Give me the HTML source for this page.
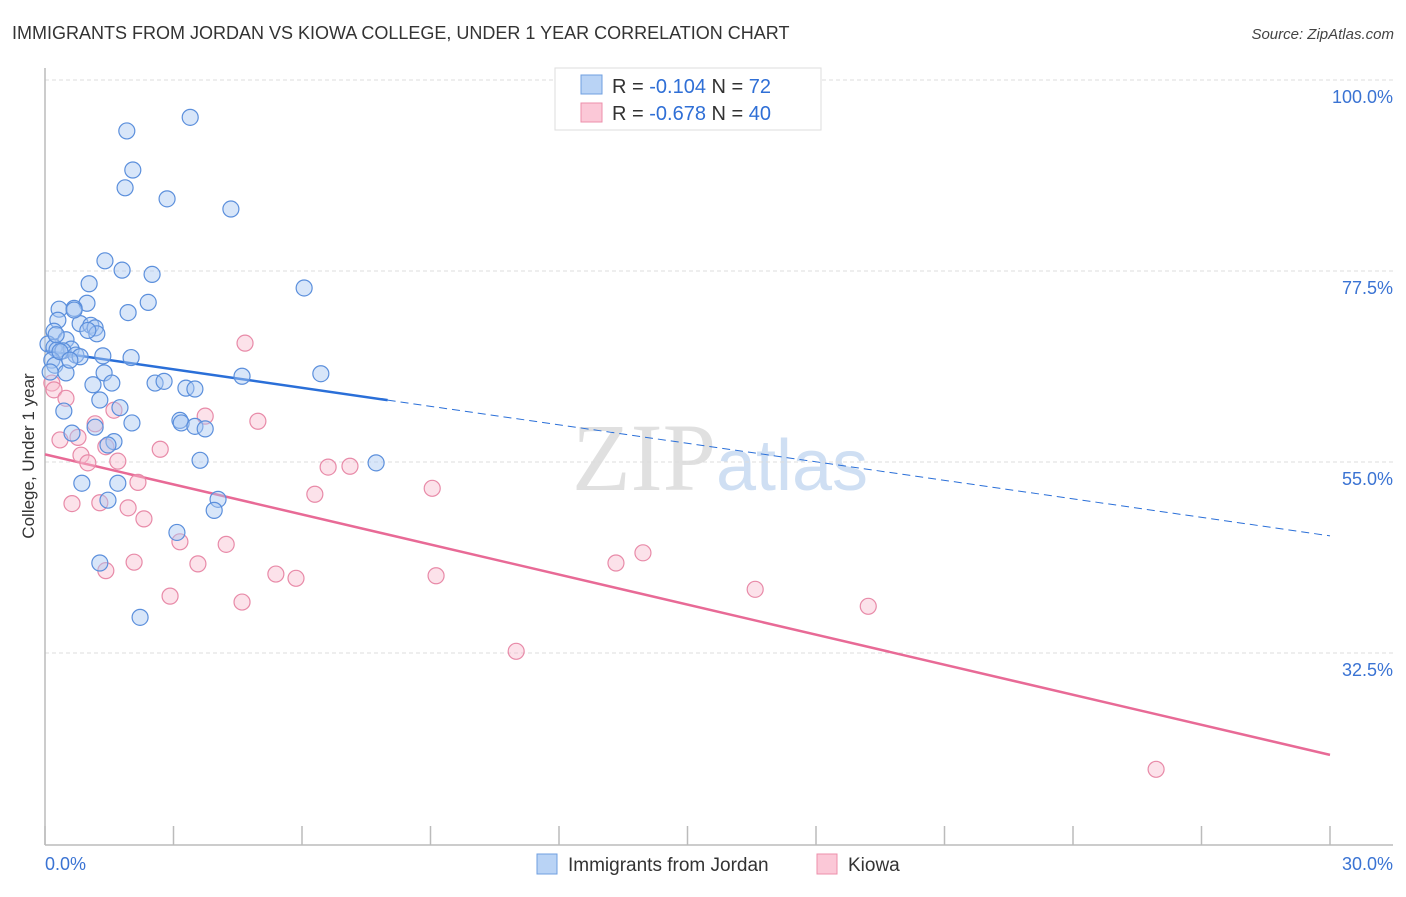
<!DOCTYPE html>
<html><head><meta charset="utf-8">
<style>
body{margin:0;background:#fff;font-family:"Liberation Sans",sans-serif;}
svg text{font-family:"Liberation Sans",sans-serif;}
</style></head>
<body>
<svg id="chart" width="1406" height="892" xmlns="http://www.w3.org/2000/svg">
<text x="12" y="39" font-size="18" fill="#333">IMMIGRANTS FROM JORDAN VS KIOWA COLLEGE, UNDER 1 YEAR CORRELATION CHART</text>
<text x="1394" y="39" font-size="15" fill="#444" text-anchor="end" font-style="italic">Source: ZipAtlas.com</text>
<text x="720" y="490" font-size="96" text-anchor="middle"><tspan fill="#e0e0e0" font-family="Liberation Serif">ZIP</tspan><tspan fill="#cfdff3" font-size="72">atlas</tspan></text>
<g id="grid"></g>
<g id="axes"></g>
<text transform="translate(34,456) rotate(-90)" font-size="17" fill="#333" text-anchor="middle">College, Under 1 year</text>
<g id="trends"></g>
<g id="points"></g>
<g>
<rect x="555" y="68" width="266" height="62" fill="#fff" stroke="#ddd"/>
<rect x="581" y="75" width="21" height="19" fill="#b9d3f5" stroke="#6f9fe0"/>
<rect x="581" y="103" width="21" height="19" fill="#fbc8d7" stroke="#ec8fab"/>
<text x="612" y="93" font-size="20" fill="#333">R = <tspan fill="#2f6fd6">-0.104</tspan>   N = <tspan fill="#2f6fd6"> 72</tspan></text>
<text x="612" y="120" font-size="20" fill="#333">R = <tspan fill="#2f6fd6">-0.678</tspan>   N = <tspan fill="#2f6fd6">40</tspan></text>
</g>
<g>
<rect x="537" y="854" width="20" height="20" fill="#b9d3f5" stroke="#6f9fe0"/>
<text x="568" y="871" font-size="19" fill="#333">Immigrants from Jordan</text>
<rect x="817" y="854" width="20" height="20" fill="#fbc8d7" stroke="#ec8fab"/>
<text x="848" y="871" font-size="19" fill="#333">Kiowa</text>
</g>
</svg>
<script>
const blueX=[3.39,1.91,2.05,1.87,2.85,4.34,1.40,1.80,2.50,1.03,6.05,2.41,0.98,0.33,0.68,1.94,0.30,0.82,0.21,1.07,1.17,1.21,0.49,0.07,0.21,0.28,0.61,0.42,0.72,0.82,1.35,2.01,0.16,0.23,0.12,0.49,1.38,6.44,4.60,1.12,1.56,2.57,2.78,3.29,3.50,0.44,1.28,1.75,3.15,3.18,2.03,3.50,3.74,0.63,1.17,1.61,1.47,3.62,7.73,0.86,1.70,1.47,4.04,3.95,3.08,1.28,2.22,0.26,0.35,1.00,0.58,0.68];
const blueY=[95.6,94.0,89.4,87.3,86.0,84.8,78.7,77.6,77.1,76.0,75.5,73.8,73.7,73.0,73.1,72.6,71.7,71.3,70.4,71.1,70.8,70.1,69.4,68.9,68.5,68.2,68.3,68.1,67.6,67.4,67.5,67.3,67.0,66.4,65.6,65.5,65.5,65.4,65.1,64.1,64.3,64.3,64.5,63.7,63.6,61.0,62.3,61.4,59.9,59.6,59.6,59.2,58.9,58.4,59.1,57.4,57.0,55.2,54.9,52.5,52.5,50.5,50.6,49.3,46.7,43.1,36.7,70.0,68.0,70.5,67.0,72.9];
const pinkX=[4.67,0.16,0.21,0.49,3.74,1.61,4.97,1.17,0.35,0.77,0.84,1.00,1.70,2.69,1.42,2.17,6.61,7.12,9.04,6.30,0.63,1.28,1.94,2.31,3.15,4.23,13.96,13.33,2.08,1.42,3.57,5.39,5.86,9.13,2.92,4.60,16.58,19.22,11.0,25.94];
const pinkY=[69.0,64.3,63.5,62.5,60.4,61.1,59.8,59.5,57.6,57.9,55.8,54.9,55.1,56.5,56.8,52.6,54.4,54.5,51.9,51.2,50.1,50.2,49.6,48.3,45.6,45.3,44.3,43.1,43.2,42.2,43.0,41.8,41.3,41.6,39.2,38.5,40.0,38.0,32.7,18.8];
const blueTrend=[68.1,46.3]; const blueSolidEnd=8.0;
const pinkTrend=[55.9,20.5];
const xTicks=[0,3,6,9,12,15,18,21,24,27,30];
const yTicks=[100,77.5,55,32.5];
const yLabels=["100.0%","77.5%","55.0%","32.5%"];

const NS="http://www.w3.org/2000/svg";
const X=v=>45+v*(1285/30);
const Y=v=>80+(100-v)*(191/22.5);
function mk(tag,attrs,parent){const e=document.createElementNS(NS,tag);for(const k in attrs)e.setAttribute(k,attrs[k]);parent.appendChild(e);return e;}
const grid=document.getElementById('grid'),axes=document.getElementById('axes'),trends=document.getElementById('trends'),pts=document.getElementById('points');
yTicks.forEach((t,i)=>{
 const l=mk('line',{x1:45,x2:1393,y1:Y(t),y2:Y(t),stroke:'#ddd','stroke-dasharray':'4,3'},grid);
 
 
 const tx=mk('text',{x:1393,y:Y(t)+23,'font-size':18,fill:'#3a73d3','text-anchor':'end'},axes);
 tx.textContent=yLabels[i];
 
 
});
const ya=mk('line',{x1:45,x2:45,y1:68,y2:845,stroke:'#bbb','stroke-width':1.5},axes);


const xa=mk('line',{x1:45,x2:1393,y1:845,y2:845,stroke:'#bbb','stroke-width':1.5},axes);


xTicks.forEach(t=>{
 const l=mk('line',{x1:X(t),x2:X(t),y1:826,y2:845,stroke:'#bbb','stroke-width':1.5},axes);
 
 
});
const xl0=mk('text',{x:45,y:870,'font-size':18,fill:'#3a73d3'},axes);xl0.textContent='0.0%';


const xl1=mk('text',{x:1393,y:870,'font-size':18,fill:'#3a73d3','text-anchor':'end'},axes);xl1.textContent='30.0%';



function drawPts(xs,ys,fill,stroke,name){
 xs.forEach((x,i)=>{
  const c=mk('circle',{cx:X(x),cy:Y(ys[i]),r:8,fill:fill,'fill-opacity':0.45,stroke:stroke,'stroke-width':1.2},pts);
  
  
 });
}
drawPts(pinkX,pinkY,'#f8bfd0','#e88aa8','point-kiowa');
drawPts(blueX,blueY,'#a9c8f2','#5b8fdc','point-jordan');
const bt=v=>blueTrend[0]+(blueTrend[1]-blueTrend[0])*v/30;
const b1=mk('line',{x1:X(0),y1:Y(bt(0)),x2:X(blueSolidEnd),y2:Y(bt(blueSolidEnd)),stroke:'#2a6fd8','stroke-width':2.5},trends);


const b2=mk('line',{x1:X(blueSolidEnd),y1:Y(bt(blueSolidEnd)),x2:X(30),y2:Y(bt(30)),stroke:'#2a6fd8','stroke-width':1,'stroke-dasharray':'8,5'},trends);


const p1=mk('line',{x1:X(0),y1:Y(pinkTrend[0]),x2:X(30),y2:Y(pinkTrend[1]),stroke:'#e86a96','stroke-width':2.5},trends);


</script>
</body></html>
